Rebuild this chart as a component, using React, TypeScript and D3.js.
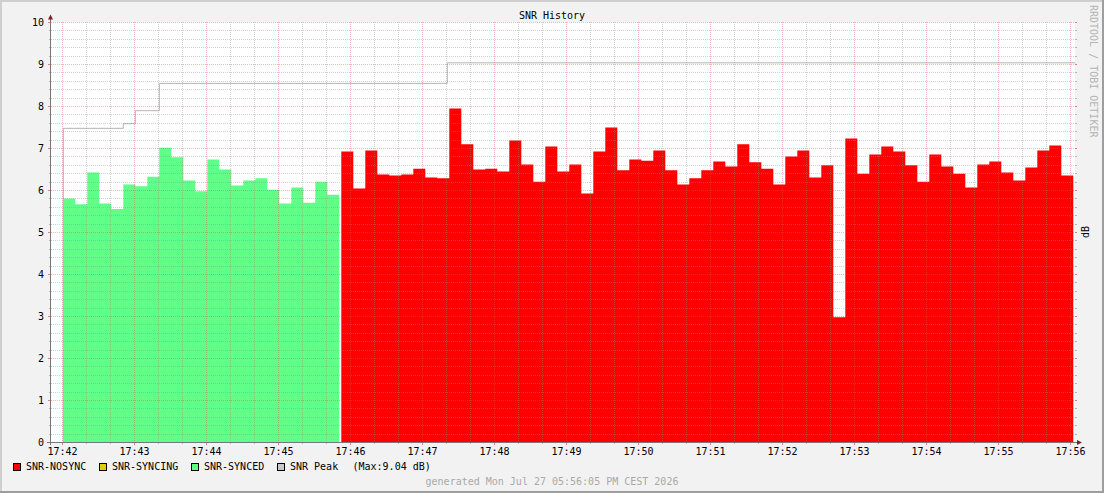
import React from 'react';
import * as d3 from 'd3';

// ---- data ----
const DAY = '2026-07-27T';
const stepSeconds = 10;
const syncedStart = '17:42:00';
const snrSynced = [
  5.81, 5.67, 6.43, 5.69, 5.56, 6.14, 6.10, 6.33, 7.02, 6.79, 6.24, 5.98,
  6.74, 6.50, 6.12, 6.24, 6.29, 6.02, 5.69, 6.07, 5.71, 6.21, 5.90,
];
const nosyncStart = '17:45:50';
const snrNosync = [
  6.93, 6.05, 6.95, 6.38, 6.36, 6.38, 6.52, 6.31, 6.29, 7.95, 7.10, 6.50,
  6.52, 6.45, 7.19, 6.62, 6.21, 7.05, 6.45, 6.62, 5.93, 6.93, 7.50, 6.48,
  6.74, 6.71, 6.95, 6.48, 6.14, 6.29, 6.48, 6.69, 6.57, 7.10, 6.67, 6.52,
  6.14, 6.81, 6.95, 6.31, 6.60, 2.98, 7.24, 6.40, 6.86, 7.05, 6.93, 6.60,
  6.21, 6.86, 6.57, 6.40, 6.07, 6.62, 6.69, 6.43, 6.24, 6.55, 6.95, 7.07,
  6.36,
];
const peakStarts = ['17:42:00', '17:42:50', '17:43:00', '17:43:20', '17:47:20'];
const peakValues = [7.48, 7.59, 7.90, 8.55, 9.04];
const peakMaxLabel = '(Max:9.04 dB)';
const yTickValues = [0, 1, 2, 3, 4, 5, 6, 7, 8, 9, 10];
const xTickLabels = [
  '17:42', '17:43', '17:44', '17:45', '17:46', '17:47', '17:48', '17:49',
  '17:50', '17:51', '17:52', '17:53', '17:54', '17:55', '17:56',
];
const legendLabels = ['SNR-NOSYNC', 'SNR-SYNCING', 'SNR-SYNCED', 'SNR Peak'];
const legendColors = ['#ff0000', '#e0d000', '#60ff88', '#c8c8c8'];
const titleText = 'SNR History';
const yAxisLabel = 'dB';
const generatedText = 'generated Mon Jul 27 05:56:05 PM CEST 2026';
const watermarkText = 'RRDTOOL / TOBI OETIKER';

const T = (hms: string) => new Date(`${DAY}${hms}`);

type Pt = { t: Date; v: number };
const seriesPoints = (start: string, vals: number[]): Pt[] => {
  const s = +T(start);
  const pts = vals.map((v, i) => ({ t: new Date(s + i * stepSeconds * 1000), v }));
  pts.push({ t: new Date(s + vals.length * stepSeconds * 1000), v: vals[vals.length - 1] });
  return pts;
};

const FONT = 'DejaVu Sans Mono';

export default function App() {
  const W = 1104, H = 493;
  const X0 = 51, X1 = 1075, Y0 = 442, Y1 = 22;
  const tStart = T('17:41:50');
  const tEnd = new Date(+tStart + (1024 / 1.2) * 1000);
  const xs = d3.scaleTime().domain([tStart, tEnd]).range([50.5, 1074.5]);
  const ys = d3.scaleLinear().domain([0, 10]).range([442.5, 22.5]);

  const area = (off: number) =>
    d3.area<Pt>()
      .curve(d3.curveStepAfter)
      .x((d) => xs(d.t) + off)
      .y0(ys(0))
      .y1((d) => ys(d.v));

  const greenPath = area(0.8)(seriesPoints(syncedStart, snrSynced)) || '';
  const redPath = area(2.8)(seriesPoints(nosyncStart, snrNosync)) || '';

  const peakPts: Pt[] = peakStarts.map((s, i) => ({ t: T(s), v: peakValues[i] }));
  peakPts.push({ t: tEnd, v: peakValues[peakValues.length - 1] });
  const peakLine = d3.line<Pt>().curve(d3.curveStepAfter).x((d) => xs(d.t) + 0.8).y((d) => ys(d.v));
  const pl = peakLine(peakPts) || '';
  const peakPath = `M${xs(peakPts[0].t) + 0.8},${ys(0)}L` + pl.slice(1);

  // grids
  const hMinor: number[] = [];
  for (let i = 1; i < 50; i++) if (i % 5 !== 0) hMinor.push(i * 0.2);
  const snap = (v: number) => Math.floor(v) + 0.5;
  const vMinor: Date[] = [];
  const g0 = +T('17:42:00');
  for (let s = 0; s <= 840; s += 20) if (s % 60 !== 0) vMinor.push(new Date(g0 + s * 1000));
  const vMajor = xTickLabels.map((l) => T(l + ':00'));

  const minorStyle = { stroke: '#8f8f8f', strokeOpacity: 0.4, strokeDasharray: '1,1' };
  const majorStyle = { stroke: '#de5050', strokeOpacity: 0.42, strokeDasharray: '1,1' };

  const legendSq = [13.5, 99.5, 191.5, 277.5];
  const legendTx = [26, 112, 204, 290];

  return (
    <svg width={W} height={H} style={{ position: 'absolute', left: 0, top: 0, display: 'block' }}
      fontFamily={FONT} fontSize={10}>
      <rect x={0} y={0} width={W} height={H} fill="#f2f2f2" />
      {/* shades */}
      <rect x={0} y={0} width={W} height={2} fill="#cfcfcf" />
      <rect x={0} y={0} width={2} height={H} fill="#cfcfcf" />
      <rect x={0} y={H - 2} width={W} height={2} fill="#9e9e9e" />
      <rect x={W - 2} y={0} width={2} height={H} fill="#9e9e9e" />
      {/* canvas */}
      <rect x={X0} y={Y1} width={X1 - X0} height={Y0 - Y1} fill="#ffffff" />
      {/* data */}
      <path d={greenPath} fill={legendColors[2]} />
      <path d={redPath} fill={legendColors[0]} />
      <path d={peakPath} fill="none" stroke="#b4b4b4" strokeWidth={1} />
      {/* grid */}
      <g>
        {hMinor.map((v, i) => (
          <g key={'hm' + i}>
            <line x1={X0} x2={X1} y1={snap(ys(v))} y2={snap(ys(v))} {...minorStyle} />
            <line x1={X0 - 2} x2={X0} y1={snap(ys(v))} y2={snap(ys(v))} stroke="#8f8f8f" strokeOpacity={0.6} />
            <line x1={X1} x2={X1 + 2} y1={snap(ys(v))} y2={snap(ys(v))} stroke="#8f8f8f" strokeOpacity={0.6} />
          </g>
        ))}
        {vMinor.map((t, i) => (
          <g key={'vm' + i}>
            <line x1={xs(t)} x2={xs(t)} y1={Y1} y2={Y0} {...minorStyle} />
            <line x1={xs(t)} x2={xs(t)} y1={Y0} y2={Y0 + 2} stroke="#8f8f8f" strokeOpacity={0.6} />
          </g>
        ))}
        {yTickValues.map((v) => (
          <g key={'hM' + v}>
            {v > 0 && <line x1={X0} x2={X1} y1={ys(v)} y2={ys(v)} {...majorStyle} />}
            <line x1={X0 - 3} x2={X0} y1={ys(v)} y2={ys(v)} stroke="#de5050" strokeOpacity={0.7} />
            <line x1={X1} x2={X1 + 2} y1={ys(v)} y2={ys(v)} stroke="#de5050" strokeOpacity={0.7} />
          </g>
        ))}
        {vMajor.map((t, i) => (
          <g key={'vM' + i}>
            <line x1={xs(t)} x2={xs(t)} y1={Y1} y2={Y0} {...majorStyle} />
            <line x1={xs(t)} x2={xs(t)} y1={Y0} y2={Y0 + 3} stroke="#de5050" strokeOpacity={0.7} />
          </g>
        ))}
      </g>
      {/* axes */}
      <line x1={47} x2={1078} y1={442.5} y2={442.5} stroke="#777" />
      <line x1={50.5} x2={50.5} y1={445} y2={18} stroke="#777" />
      <path d="M48,19.5L53,19.5L50.5,14.5Z" fill="#801f1f" />
      <path d="M1077,440L1077,445L1082,442.5Z" fill="#801f1f" />
      {/* tick labels */}
      {yTickValues.map((v) => (
        <text key={'yl' + v} x={44} y={ys(v) + 3.8} textAnchor="end" fill="#000">{v}</text>
      ))}
      {xTickLabels.map((l, i) => (
        <text key={'xl' + i} x={xs(vMajor[i])} y={455} textAnchor="middle" fill="#000">{l}</text>
      ))}
      {/* title */}
      <text x={W / 2} y={19} textAnchor="middle" fill="#000">{titleText}</text>
      {/* y label */}
      <text transform="translate(1088.5,232) rotate(-90)" textAnchor="middle" fill="#000">{yAxisLabel}</text>
      {/* watermark */}
      <text transform="translate(1090,5) rotate(90)" fill="#b4b4b4">{watermarkText}</text>
      {/* legend */}
      {legendLabels.map((l, i) => (
        <g key={'lg' + i}>
          <rect x={legendSq[i]} y={463.5} width={7} height={7} fill={legendColors[i]} stroke="#000" strokeWidth={1} />
          <text x={legendTx[i]} y={470} fill="#000">{l}</text>
        </g>
      ))}
      <text x={352.5} y={470} fill="#000">{peakMaxLabel}</text>
      <text x={W / 2} y={484.5} textAnchor="middle" fill="#a9a9a9">{generatedText}</text>
    </svg>
  );
}
